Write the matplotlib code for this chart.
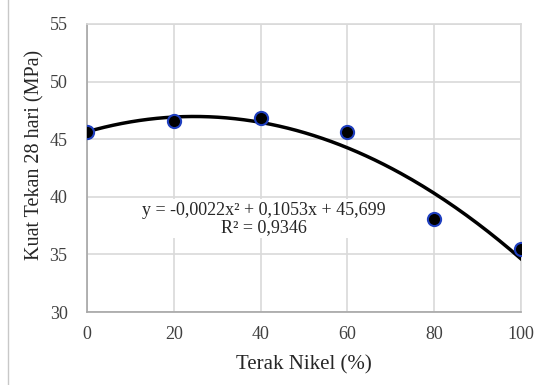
import numpy as np
import matplotlib
matplotlib.use("Agg")
import matplotlib.pyplot as plt
from matplotlib.lines import Line2D

terak = [0, 20, 40, 60, 80, 100]
kuat_tekan = [45.6, 46.6, 46.8, 45.6, 38.1, 35.5]
eq_text = "y = -0,0022x² + 0,1053x + 45,699\nR² = 0,9346"
xticks = [0, 20, 40, 60, 80, 100]
yticks = [30, 35, 40, 45, 50, 55]

plt.rcParams['font.family'] = ['Liberation Serif', 'DejaVu Serif']

fig = plt.figure(figsize=(5.35, 3.85), dpi=100)
ax = fig.add_axes([0.1626, 0.1896, 0.8112, 0.7481])

coef = np.polyfit(terak, kuat_tekan, 2)
xs = np.linspace(0, 100, 200)
ax.plot(xs, np.polyval(coef, xs), color='black', lw=2.5, zorder=3)
ax.scatter(terak, kuat_tekan, s=90, facecolor='black', edgecolor='#1f3fbf', linewidth=1.5, zorder=4)

ax.set_xlim(0, 100)
ax.set_ylim(30, 55)
ax.set_xticks(xticks)
ax.set_yticks(yticks)
ax.grid(True, color='#d9d9d9', lw=1.2)
ax.set_axisbelow(True)
for s in ['top', 'right']:
    ax.spines[s].set_color('#d9d9d9')
for s in ['left', 'bottom']:
    ax.spines[s].set_color('#a6a6a6')
for s in ax.spines.values():
    s.set_linewidth(1.2)
ax.tick_params(length=0, labelsize=13, colors='#404040')
ax.tick_params(axis='y', pad=14)
ax.tick_params(axis='x', pad=10)
ax.set_xlabel('Terak Nikel (%)', fontsize=15, color='#262626', labelpad=9)
ax.set_ylabel('Kuat Tekan 28 hari (MPa)', fontsize=14.5, color='#262626')
ax.yaxis.set_label_coords(-0.098, 0.545)

ax.text(40.8, 38.1, eq_text, ha='center', va='center', fontsize=13, color='#262626',
        linespacing=1.0, bbox=dict(facecolor='white', edgecolor='none', pad=2), zorder=2)

fig.add_artist(Line2D([8/535, 8/535], [0, 1], color='#c8c8c8', lw=1))

fig.savefig('out.png', dpi=100)
